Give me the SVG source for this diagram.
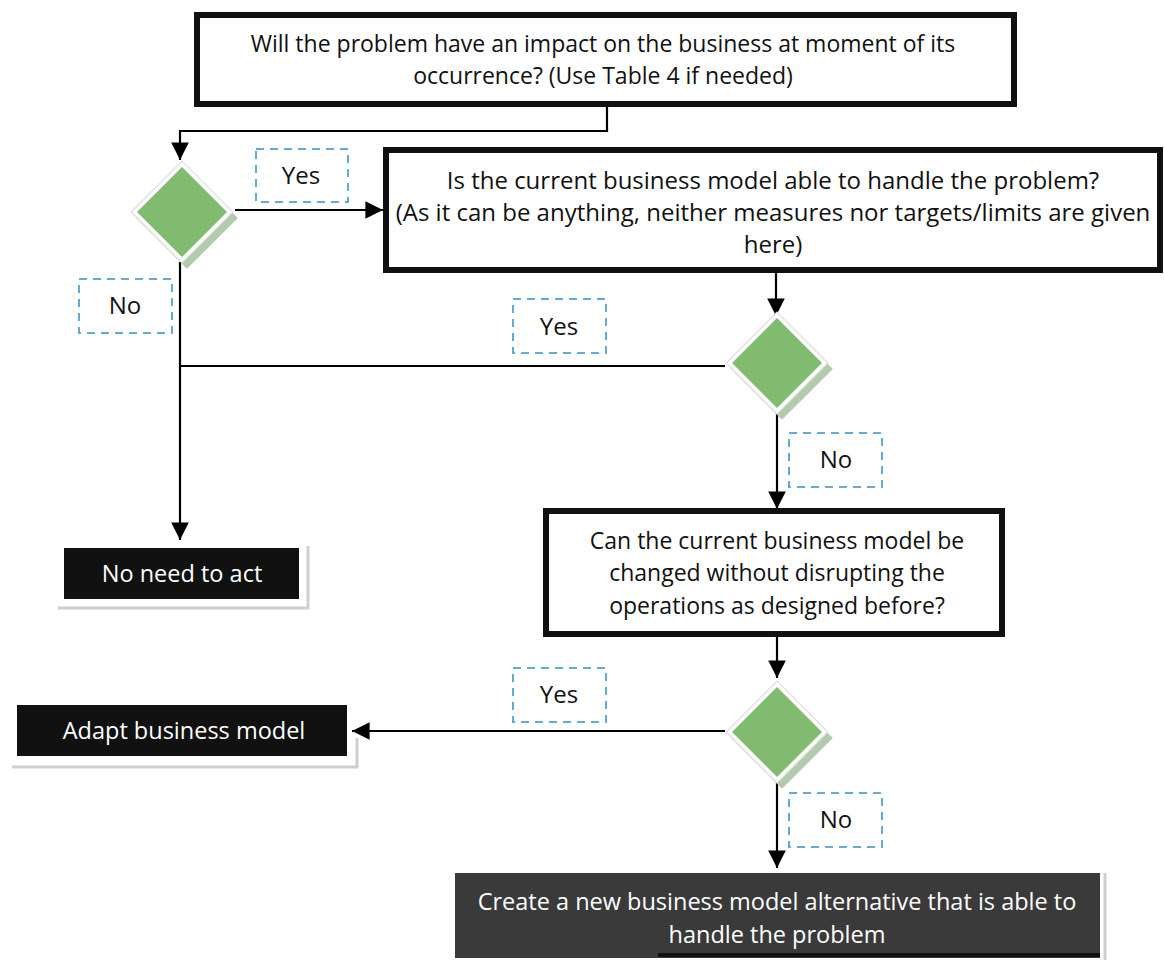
<svg xmlns="http://www.w3.org/2000/svg" width="1164" height="966" viewBox="0 0 1164 966">
  <defs>
    <marker id="arrow" viewBox="0 0 10 10" refX="10" refY="5" markerWidth="8" markerHeight="8" markerUnits="strokeWidth" orient="auto">
      <path d="M0,0 L10,5 L0,10 Z" fill="#000"/>
    </marker>
    <polygon id="dshape" points="0,-45 45,0 0,45 -45,0"/>
  </defs>
  <style>
    .q { fill: #fff; stroke: #111; stroke-width: 6; }
    .qt { font-family: "Open Sans", "Liberation Sans", sans-serif; font-size: 23px; fill: #111; text-anchor: middle; }
    .qt.big { font-size: 24px; }
    .term { fill: #111; }
    .tt { font-family: "Open Sans", "Liberation Sans", sans-serif; font-size: 23.5px; fill: #fff; text-anchor: middle; }
    .shade { fill: none; stroke: #cfcfcf; stroke-width: 3; }
    .lbl { fill: #fff; stroke: #62acd4; stroke-width: 2; stroke-dasharray: 8 6; }
    .lt { font-family: "Open Sans", "Liberation Sans", sans-serif; font-size: 24px; fill: #111; text-anchor: middle; }
    .edge { fill: none; stroke: #000; stroke-width: 2.2; }
    .dsh { fill: #b3cbac; }
    .drim { fill: #fff; stroke: #dcdcdc; stroke-width: 1; }
    .dfill { fill: #80bb70; }
  </style>

  <rect width="1164" height="966" fill="#fff"/>

  <!-- connectors -->
  <g id="connectors">
    <path class="edge" d="M607,107 V131 H180 V160" marker-end="url(#arrow)"/>
    <path class="edge" d="M235,210 H383" marker-end="url(#arrow)"/>
    <path class="edge" d="M180,262 V540" marker-end="url(#arrow)"/>
    <path class="edge" d="M725,366 H180"/>
    <path class="edge" d="M776,273 V316" marker-end="url(#arrow)"/>
    <path class="edge" d="M777,408 V509" marker-end="url(#arrow)"/>
    <path class="edge" d="M777,637 V678" marker-end="url(#arrow)"/>
    <path class="edge" d="M725,731 H352" marker-end="url(#arrow)"/>
    <path class="edge" d="M777,776 V868" marker-end="url(#arrow)"/>
  </g>

  <!-- question: impact -->
  <g id="q-impact">
    <rect class="q" x="197" y="15" width="817" height="89"/>
    <text class="qt" x="603" y="52">Will the problem have an impact on the business at moment of its</text>
    <text class="qt" x="603" y="84">occurrence? (Use Table 4 if needed)</text>
  </g>

  <!-- question: current model able -->
  <g id="q-able">
    <rect class="q" x="386" y="150" width="774" height="120"/>
    <text class="qt big" x="773" y="189">Is the current business model able to handle the problem?</text>
    <text class="qt big" x="773" y="221">(As it can be anything, neither measures nor targets/limits are given</text>
    <text class="qt big" x="773" y="253">here)</text>
  </g>

  <!-- question: change without disruption -->
  <g id="q-change">
    <rect class="q" x="546" y="511" width="456" height="123"/>
    <text class="qt" x="777" y="549">Can the current business model be</text>
    <text class="qt" x="777" y="581">changed without disrupting the</text>
    <text class="qt" x="777" y="614">operations as designed before?</text>
  </g>

  <!-- decisions -->
  <g id="d1" transform="translate(182,212)">
    <use href="#dshape" class="dsh" transform="translate(5,6) scale(1.13)"/>
    <use href="#dshape" class="drim" transform="scale(1.13)"/>
    <use href="#dshape" class="dfill"/>
  </g>
  <g id="d2" transform="translate(777,363)">
    <use href="#dshape" class="dsh" transform="translate(5,6) scale(1.13)"/>
    <use href="#dshape" class="drim" transform="scale(1.13)"/>
    <use href="#dshape" class="dfill"/>
  </g>
  <g id="d3" transform="translate(777,732)">
    <use href="#dshape" class="dsh" transform="translate(5,6) scale(1.13)"/>
    <use href="#dshape" class="drim" transform="scale(1.13)"/>
    <use href="#dshape" class="dfill"/>
  </g>

  <!-- branch labels -->
  <g id="lbl-yes1">
    <rect class="lbl" x="256" y="149" width="92" height="53"/>
    <text class="lt" x="301" y="184">Yes</text>
  </g>
  <g id="lbl-no1">
    <rect class="lbl" x="79" y="279" width="93" height="54"/>
    <text class="lt" x="125" y="314">No</text>
  </g>
  <g id="lbl-yes2">
    <rect class="lbl" x="513" y="299" width="93" height="54"/>
    <text class="lt" x="559" y="335">Yes</text>
  </g>
  <g id="lbl-no2">
    <rect class="lbl" x="789" y="433" width="93" height="54"/>
    <text class="lt" x="836" y="468">No</text>
  </g>
  <g id="lbl-yes3">
    <rect class="lbl" x="513" y="668" width="93" height="54"/>
    <text class="lt" x="559" y="703">Yes</text>
  </g>
  <g id="lbl-no3">
    <rect class="lbl" x="789" y="793" width="93" height="54"/>
    <text class="lt" x="836" y="828">No</text>
  </g>

  <!-- outcomes -->
  <g id="t-noact">
    <path class="shade" d="M58,608 H308 V546"/>
    <rect class="term" x="64" y="548" width="235" height="51"/>
    <text class="tt" x="182" y="582">No need to act</text>
  </g>
  <g id="t-adapt">
    <path class="shade" d="M12,767 H357 V738"/>
    <rect class="term" x="17" y="705" width="330" height="51"/>
    <text class="tt" x="184" y="739">Adapt business model</text>
  </g>
  <g id="t-new">
    <path class="shade" d="M1105,873 V960"/>
    <rect x="455" y="873" width="645" height="85" fill="#3a3a3a"/>
    <rect x="658" y="953" width="442" height="4" fill="#111"/>
    <text class="tt" x="777" y="910">Create a new business model alternative that is able to</text>
    <text class="tt" x="777" y="943">handle the problem</text>
  </g>
</svg>
